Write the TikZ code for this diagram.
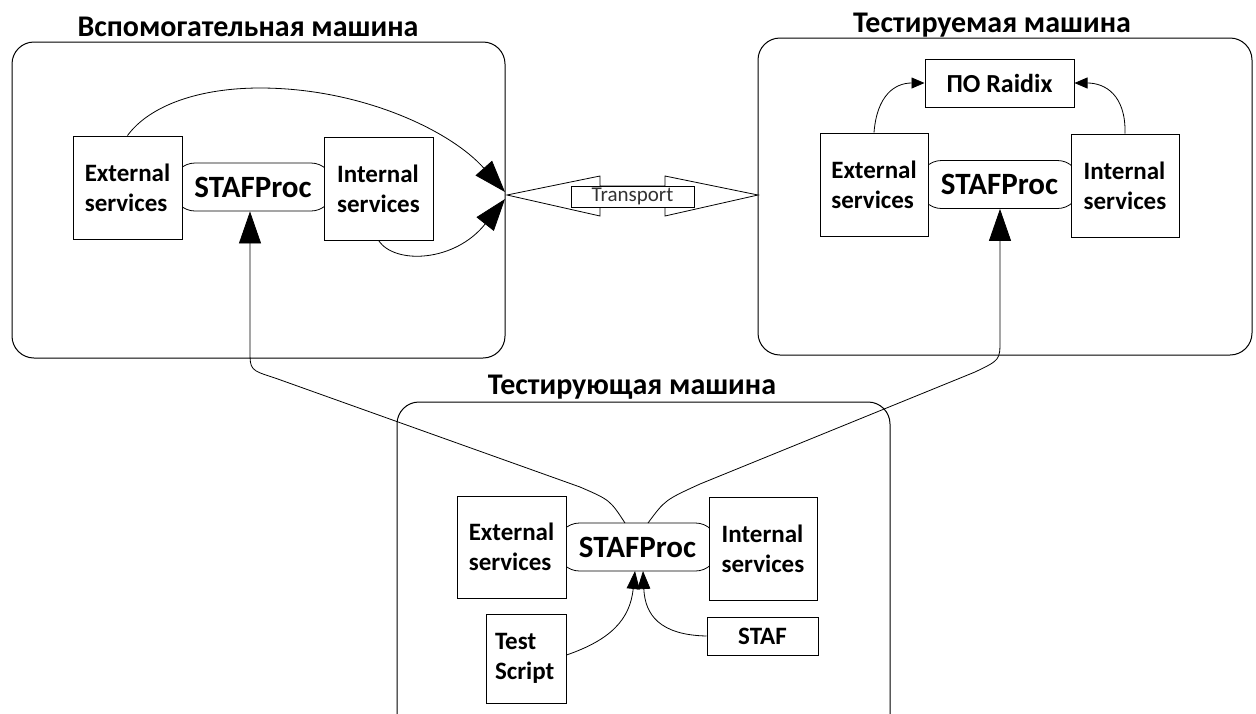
\documentclass[tikz,border=0pt]{standalone}
\usepackage{fontspec}
\setmainfont{Carlito}
\usetikzlibrary{arrows.meta}

\begin{document}
\begin{tikzpicture}[x=1pt,y=-1pt,
  machine/.style={draw, line width=1pt, rounded corners=22, inner sep=0pt},
  mtitle/.style={font=\bfseries\fontsize{30}{34}\selectfont, inner sep=0pt},
  svc/.style={draw, fill=white, line width=1pt, align=left, inner sep=0pt,
    font=\bfseries\fontsize{25}{30}\selectfont},
  proc/.style={draw, line width=0.8pt, rounded corners=22, inner sep=0pt,
    minimum width=160, minimum height=48, font=\bfseries\fontsize{31}{34}\selectfont},
  conn/.style={line width=0.8pt},
  bigtip/.style={-{Triangle[length=32,width=22]}},
  midtip/.style={-{Triangle[length=18,width=13]}},
  smalltip/.style={-{Triangle[length=13,width=11]}}
]
\useasboundingbox (0,0) rectangle (1256,713);
\clip (0,0) rectangle (1256,713);

% machine frames
\node[machine, minimum width=493, minimum height=316] (lm) at (258.5,200) {};
\node[machine, minimum width=494, minimum height=317] (rm) at (1005,196.5) {};
\node[machine, minimum width=493, minimum height=358] (bm) at (643.5,581) {};
\node[mtitle] (lmT) at (248,27) {Вспомогательная машина};
\node[mtitle] (rmT) at (992,25) {Тестируемая машина};
\node[mtitle] (bmT) at (632,387) {Тестирующая машина};

% STAFProc processes (drawn first, the service boxes cover their ends)
\node[proc] (lProc) at (253,187) {STAFProc};
\node[proc] (rProc) at (999.5,184.5) {STAFProc};
\node[proc] (bProc) at (637.5,547) {STAFProc};

% service boxes
\node[svc, minimum width=109, minimum height=103] (lExt) at (127.5,187.5) {External\\services};
\node[svc, minimum width=109, minimum height=103] (lInt) at (378.5,188.5) {Internal\\services};
\node[svc, minimum width=108, minimum height=103] (rExt) at (874,184.5) {External\\services};
\node[svc, minimum width=108, minimum height=103] (rInt) at (1125,185.5) {Internal\\services};
\node[svc, minimum width=149, minimum height=48, font=\bfseries\fontsize{26}{30}\selectfont] (raid) at (999.5,83) {ПО Raidix};
\node[svc, minimum width=80, minimum height=89, text width=62] (test) at (526,658.5) {Test\\Script};
\node[svc, minimum width=109, minimum height=102] (bExt) at (511.5,547) {External\\services};
\node[svc, minimum width=108, minimum height=103] (bInt) at (763,548.5) {Internal\\services};
\node[svc, minimum width=111, minimum height=38] (staf) at (762.5,636) {STAF};

% transport between the machines
\coordinate (tl) at (507,195);
\coordinate (tr) at (758,195);
\draw[line width=0.8pt] (tl) -- (600,176) -- (600,186) -- (665,186) -- (665,176) -- (tr)
  -- (665,216) -- (665,206) -- (600,206) -- (600,216) -- cycle;
\node[draw, fill=white, line width=0.8pt, minimum width=123, minimum height=21, inner sep=0pt,
  text height=14, text depth=4,
  font=\fontsize{21}{22}\selectfont, text=black!80] (trn) at (632.5,196.5) {Transport};

% services of the auxiliary machine to the transport
\coordinate (ta) at (505,192);
\coordinate (tb) at (505,199);
\draw[conn, bigtip] (lExt.north) .. controls (150,105) and (200,88) .. (260,88)
  .. controls (360,88) and (450,130) .. (ta);
\draw[conn, bigtip] (lInt.south) .. controls (395,265) and (455,262) .. (tb);

% services of the tested machine to Raidix
\draw[conn, smalltip] (rExt.north) .. controls (877,95) and (895,83) .. (raid.west);
\draw[conn, smalltip] (rInt.north) .. controls (1126,95) and (1105,83) .. (raid.east);

% testing machine controls the other two
\coordinate (bl) at (625,523);
\coordinate (br) at (648,523);
\draw[conn, bigtip] (bl) .. controls (610,500) .. (580,487) -- (275,378)
  .. controls (250,370) .. (250,350) -- (lProc.south -| 250,0);
\draw[conn, bigtip] (br) .. controls (665,500) .. (700,484) -- (975,372)
  .. controls (1000,360) .. (1000,340) -- (rProc.south -| 1000,0);

% local inputs of the testing STAFProc
\coordinate (pa) at (635,571);
\coordinate (pb) at (643,571);
\draw[conn, midtip] (test.east |- 0,655) .. controls (610,640) and (630,620) .. (pa);
\draw[conn, midtip] (staf.west) .. controls (660,635) and (645,615) .. (pb);
\end{tikzpicture}
\end{document}
